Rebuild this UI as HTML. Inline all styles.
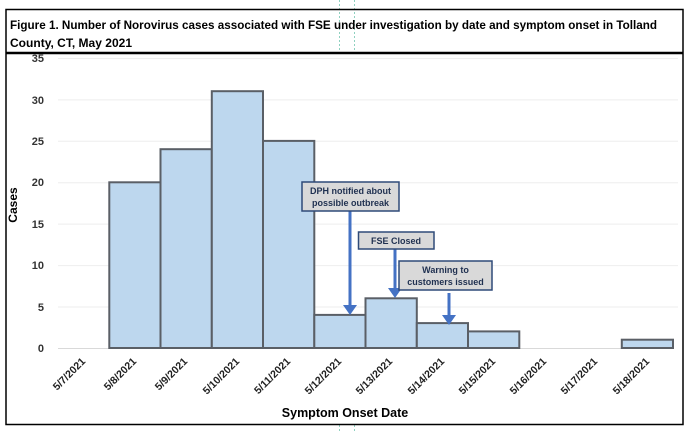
<!DOCTYPE html>
<html><head><meta charset="utf-8"><style>
html,body{margin:0;padding:0;background:#fff;}
svg{display:block;font-family:"Liberation Sans",sans-serif;}
</style></head><body>
<svg width="692" height="431" viewBox="0 0 692 431" xmlns="http://www.w3.org/2000/svg">
<rect x="0" y="0" width="692" height="431" fill="#fff"/>
<line x1="339.5" y1="0" x2="339.5" y2="53" stroke="#8fd1c0" stroke-dasharray="2,2"/>
<line x1="354.5" y1="0" x2="354.5" y2="53" stroke="#8fd1c0" stroke-dasharray="2,2"/>
<line x1="339.5" y1="425" x2="339.5" y2="431" stroke="#8fd1c0" stroke-dasharray="2,2"/>
<line x1="354.5" y1="425" x2="354.5" y2="431" stroke="#8fd1c0" stroke-dasharray="2,2"/>
<rect x="6" y="9.5" width="677" height="415" fill="none" stroke="#000" stroke-width="1.5"/>
<line x1="6" y1="53" x2="683" y2="53" stroke="#000" stroke-width="2.5"/>
<text x="10" y="29" font-size="12" font-weight="bold" fill="#000" textLength="647" lengthAdjust="spacingAndGlyphs">Figure 1. Number of Norovirus cases associated with FSE under investigation  by date and symptom onset in Tolland</text>
<text x="10" y="47" font-size="12" font-weight="bold" fill="#000" textLength="122" lengthAdjust="spacingAndGlyphs">County, CT, May 2021</text>
<g stroke="#eeeeee" stroke-width="1">
<line x1="58" y1="58.5" x2="678" y2="58.5"/>
<line x1="58" y1="99.9" x2="678" y2="99.9"/>
<line x1="58" y1="141.3" x2="678" y2="141.3"/>
<line x1="58" y1="182.7" x2="678" y2="182.7"/>
<line x1="58" y1="224.1" x2="678" y2="224.1"/>
<line x1="58" y1="265.6" x2="678" y2="265.6"/>
<line x1="58" y1="307" x2="678" y2="307"/>
</g>
<line x1="58" y1="348.5" x2="673" y2="348.5" stroke="#d9d9d9"/>
<g font-size="11" font-weight="bold" fill="#333" text-anchor="end">
<text x="44" y="62">35</text><text x="44" y="104">30</text><text x="44" y="145">25</text>
<text x="44" y="186">20</text><text x="44" y="228">15</text><text x="44" y="269">10</text>
<text x="44" y="311">5</text><text x="44" y="352">0</text>
</g>
<text transform="translate(17,205) rotate(-90)" font-size="12" font-weight="bold" text-anchor="middle" fill="#000">Cases</text>
<g fill="#bdd7ee" stroke="#5a5f66" stroke-width="2">
<rect x="109.3" y="182.3" width="51.2" height="165.7"/>
<rect x="160.5" y="149.2" width="51.3" height="198.8"/>
<rect x="211.8" y="91.2" width="51.2" height="256.8"/>
<rect x="263" y="140.9" width="51.3" height="207.1"/>
<rect x="314.3" y="314.9" width="51.2" height="33.1"/>
<rect x="365.5" y="298.3" width="51.3" height="49.7"/>
<rect x="416.8" y="323.1" width="51.2" height="24.9"/>
<rect x="468" y="331.4" width="51.3" height="16.6"/>
<rect x="621.8" y="339.7" width="51.2" height="8.3"/>
</g>
<g font-size="10.5" font-weight="bold" fill="#222" text-anchor="end">
<text transform="translate(86,362) rotate(-45)">5/7/2021</text>
<text transform="translate(137,362) rotate(-45)">5/8/2021</text>
<text transform="translate(188,362) rotate(-45)">5/9/2021</text>
<text transform="translate(240,362) rotate(-45)">5/10/2021</text>
<text transform="translate(291,362) rotate(-45)">5/11/2021</text>
<text transform="translate(342,362) rotate(-45)">5/12/2021</text>
<text transform="translate(393,362) rotate(-45)">5/13/2021</text>
<text transform="translate(445,362) rotate(-45)">5/14/2021</text>
<text transform="translate(496,362) rotate(-45)">5/15/2021</text>
<text transform="translate(547,362) rotate(-45)">5/16/2021</text>
<text transform="translate(598,362) rotate(-45)">5/17/2021</text>
<text transform="translate(650,362) rotate(-45)">5/18/2021</text>
</g>
<text x="345" y="417" font-size="12.5" font-weight="bold" text-anchor="middle" fill="#000">Symptom Onset Date</text>
<g stroke="#4472c4" stroke-width="3" fill="#4472c4">
<line x1="350" y1="211" x2="350" y2="306"/><polygon points="343,305 357,305 350,315" stroke="none"/>
<line x1="395" y1="249" x2="395" y2="289"/><polygon points="388,288 402,288 395,298" stroke="none"/>
<line x1="449" y1="293" x2="449" y2="316"/><polygon points="442,315 456,315 449,325" stroke="none"/>
</g>
<g fill="#d9d9d9" stroke="#2f4a78" stroke-width="1.5">
<rect x="302" y="182" width="97" height="29"/>
<rect x="358.5" y="232" width="75.5" height="17"/>
<rect x="399" y="261" width="93" height="29"/>
</g>
<g font-size="9" font-weight="bold" fill="#1f3050" text-anchor="middle">
<text x="350.5" y="194">DPH notified about</text>
<text x="350.5" y="206">possible outbreak</text>
<text x="396" y="244">FSE Closed</text>
<text x="445.5" y="273">Warning to</text>
<text x="445.5" y="285">customers issued</text>
</g>
</svg>
</body></html>
